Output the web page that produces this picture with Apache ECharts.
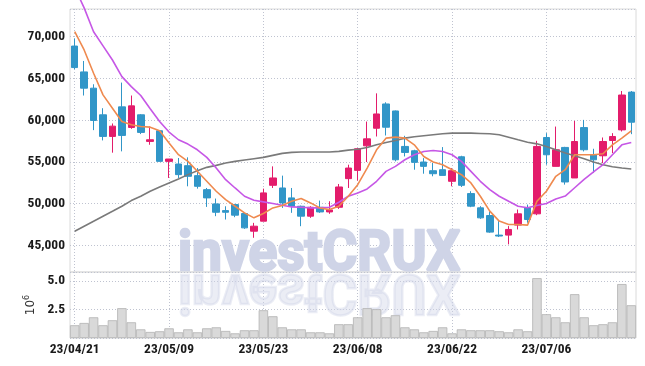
<!DOCTYPE html>
<html>
<head>
<meta charset="utf-8">
<script src="https://cdn.jsdelivr.net/npm/echarts/dist/echarts.min.js"></script>
<style>
html, body { margin: 0; padding: 0; background: #fff; }
#chart { width: 645px; height: 366px; }
</style>
</head>
<body>
<div id="chart"></div>
<script>
// trading days shown on the x axis
var dates = [
    '23/04/21', '23/04/24', '23/04/25', '23/04/26', '23/04/27', '23/04/28', '23/05/02', '23/05/03', '23/05/04', '23/05/08',
    '23/05/09', '23/05/10', '23/05/11', '23/05/12', '23/05/15', '23/05/16', '23/05/17', '23/05/18', '23/05/19', '23/05/22',
    '23/05/23', '23/05/24', '23/05/25', '23/05/26', '23/05/30', '23/05/31', '23/06/01', '23/06/02', '23/06/05', '23/06/07',
    '23/06/08', '23/06/09', '23/06/12', '23/06/13', '23/06/14', '23/06/15', '23/06/16', '23/06/19', '23/06/20', '23/06/21',
    '23/06/22', '23/06/23', '23/06/26', '23/06/27', '23/06/28', '23/06/29', '23/06/30', '23/07/03', '23/07/04', '23/07/05',
    '23/07/06', '23/07/07', '23/07/10', '23/07/11', '23/07/12', '23/07/13', '23/07/14', '23/07/17', '23/07/18', '23/07/19'
];

// [open, close, low, high]
var ohlc = [
    [68880, 66300, 66100, 69800], [65780, 63830, 62950, 67090], [63830, 59960, 58800, 64300], [60640, 58050, 57570, 61430],
    [58050, 59280, 56100, 59600], [61590, 58170, 56260, 64500], [59120, 61710, 58960, 62950], [60640, 58530, 58330, 60720],
    [57450, 57650, 57050, 59240], [58730, 55060, 55060, 58800], [55060, 55340, 53070, 55340], [54740, 53470, 53070, 55460],
    [54540, 53270, 52070, 55540], [53350, 52070, 51790, 54260], [51670, 50680, 49600, 51870], [49960, 48960, 48490, 50600],
    [49160, 48960, 48090, 49680], [49880, 48610, 48370, 49960], [48810, 47090, 46970, 48880], [46690, 47290, 45900, 47690],
    [47890, 51280, 47890, 51790], [52190, 53070, 51870, 54460], [51870, 50080, 49480, 53350], [50680, 49680, 48890, 51870],
    [49680, 48490, 47290, 49760], [48490, 49560, 48290, 49680], [49560, 49000, 48890, 50360], [49000, 49240, 48770, 50280],
    [49560, 51990, 49360, 52350], [52990, 54260, 51870, 54660], [53980, 56570, 52750, 56650], [56920, 57760, 54980, 59830],
    [59030, 60740, 58040, 63210], [61940, 59150, 58160, 62140], [61100, 55250, 55060, 61150], [56850, 56130, 55650, 58120],
    [56330, 54940, 54060, 56450], [54980, 54460, 53580, 55450], [53940, 53580, 53270, 54860], [54060, 53380, 53380, 56770],
    [52670, 53940, 52070, 54260], [55610, 52190, 51990, 55730], [51200, 49690, 49570, 51480], [49490, 48290, 48170, 49690],
    [48570, 46580, 46500, 49090], [46220, 46110, 45990, 47900], [46220, 46900, 45110, 47300], [47420, 48770, 46900, 49290],
    [49490, 48090, 47700, 49880], [48770, 56850, 48610, 57520], [57920, 55850, 54660, 58440], [54460, 56450, 54460, 59230],
    [56730, 52590, 52270, 56800], [53070, 57440, 53070, 59910], [59110, 56450, 56250, 60030], [55850, 55250, 53660, 56570],
    [55730, 57440, 54860, 57920], [57560, 58040, 56050, 58440], [58830, 63010, 58640, 63490], [63360, 59750, 58320, 63490]
];

// moving averages (orange, purple, gray)
var ma5 = [
    70600, 68410, 65620, 63030, 61430, 59840, 59440, 59240, 59160, 58730, 57250, 55860, 55060, 53870, 52670,
    51480, 50480, 49680, 48890, 48290, 48810, 49480, 49760, 50280, 50600, 50080, 49480, 49280, 49680, 50880,
    52270, 54260, 56450, 57840, 57960, 57840, 57040, 55650, 54980, 54660, 54060, 53460, 52470, 50880, 49090,
    47900, 47500, 47500, 47420, 50280, 51480, 53270, 54060, 55850, 55850, 55850, 55970, 57040, 57840, 58720
];
var ma20 = [
    75900, 73450, 70600, 68900, 67210, 65220, 64020, 62950, 61360, 59840, 58570, 57650, 57130, 56450, 55540,
    54260, 52870, 51870, 50880, 50400, 50200, 50000, 49800, 49600, 49560, 49480, 49480, 49560, 50160, 50880,
    51280, 51750, 52670, 53860, 54460, 55250, 55850, 56250, 56370, 56250, 55850, 55060, 53860, 52670, 51670,
    50880, 50280, 49690, 49490, 49770, 50000, 50550, 50900, 51900, 52900, 53800, 54660, 55850, 57040, 57320
];
var ma60 = [
    46690, 47290, 47890, 48490, 49080, 49680, 50360, 50880, 51480, 51990, 52470, 52950, 53470, 53940, 54340,
    54580, 54860, 55060, 55220, 55380, 55540, 55780, 56020, 56140, 56180, 56180, 56180, 56180, 56260, 56410,
    56520, 56730, 57040, 57320, 57560, 57840, 58000, 58120, 58240, 58360, 58440, 58440, 58440, 58400, 58360,
    58240, 57960, 57640, 57360, 57160, 56850, 56450, 56050, 55730, 55370, 54980, 54660, 54420, 54260, 54140
];

// volume, in millions of shares
var volume = [
    1.12, 1.32, 1.82, 1.12, 1.56, 2.62, 1.38, 0.76, 0.53, 0.59,
    0.85, 0.50, 0.76, 0.50, 0.85, 0.94, 0.62, 0.41, 0.68, 0.68,
    2.44, 1.91, 0.94, 0.76, 0.76, 0.50, 0.50, 0.41, 1.21, 1.21,
    1.82, 2.62, 2.53, 1.82, 2.00, 0.94, 0.76, 0.50, 0.62, 0.94,
    0.41, 0.76, 0.68, 0.68, 0.68, 0.59, 0.50, 0.76, 0.59, 5.26,
    2.09, 1.82, 1.38, 3.85, 1.82, 1.12, 1.21, 1.38, 4.74, 2.88
];

var chart = echarts.init(document.getElementById('chart'));

var FONT = "'Roboto Condensed', 'DejaVu Sans Condensed', 'Liberation Sans Narrow', sans-serif";
var UP = '#e31c6b';
var DOWN = '#3196c8';
var gridLine = { show: true, lineStyle: { color: '#bfc3d0', width: 1, type: [1, 2] } };
var labelStyle = { margin: 5, color: '#1a1a1a', fontSize: 13.5, fontWeight: 'bold', fontFamily: FONT };

function comma(v) {
    return String(Math.round(v)).replace(/\B(?=(\d{3})+(?!\d))/g, ',');
}

var wmColor = '#cfd4e7';

var option = {
    animation: false,
    backgroundColor: '#fff',
    grid: [
        { left: 70, right: 9, top: 9, height: 263, show: true, borderColor: '#dadada', borderWidth: 1 },
        { left: 70, right: 9, top: 272, height: 66, show: true, borderColor: '#dadada', borderWidth: 1 }
    ],
    xAxis: [{
        type: 'category', gridIndex: 0, data: dates, boundaryGap: true,
        axisLine: { show: false }, axisTick: { show: false }, axisLabel: { show: false },
        splitLine: { show: true, interval: 9, alignWithLabel: true, lineStyle: gridLine.lineStyle }
    }, {
        type: 'category', gridIndex: 1, data: dates, boundaryGap: true,
        axisLine: { show: false }, axisTick: { show: false },
        axisLabel: Object.assign({ interval: 9 }, labelStyle, { margin: 5 }),
        splitLine: { show: true, interval: 9, alignWithLabel: true, lineStyle: gridLine.lineStyle }
    }],
    yAxis: [{
        type: 'value', gridIndex: 0, min: 41800, max: 73320, splitNumber: 7,
        axisLine: { show: false }, axisTick: { show: false },
        axisLabel: Object.assign({ showMinLabel: false, showMaxLabel: false, formatter: comma }, labelStyle),
        splitLine: gridLine
    }, {
        type: 'value', gridIndex: 1, min: 0, max: 5.8, interval: 2.5,
        axisLine: { show: false }, axisTick: { show: false },
        axisLabel: Object.assign({ showMinLabel: false, showMaxLabel: false,
            formatter: function (v) { return v.toFixed(1); } }, labelStyle),
        splitLine: gridLine,
        name: '{b|10}{s|6}', nameLocation: 'middle', nameGap: 25, nameRotate: 90,
        nameTextStyle: {
            rich: {
                b: { fontSize: 12, fontFamily: 'DejaVu Sans', color: '#333' },
                s: { fontSize: 8, fontFamily: 'DejaVu Sans', color: '#333', padding: [0, 0, 8, 0] }
            }
        }
    }],
    graphic: [{
        type: 'text', z: 1, x: 178, y: 256, scaleX: 0.95,
        style: { text: 'investCRUX', fill: wmColor, stroke: wmColor, lineWidth: 2.5,
            font: 'bold 56px Roboto', verticalAlign: 'middle' }
    }, {
        type: 'text', z: 1, x: 178, y: 289, scaleX: 0.95, scaleY: -1,
        style: { text: 'investCRUX', fill: wmColor, stroke: wmColor, lineWidth: 2.5, opacity: 0.42,
            font: 'bold 56px Roboto', verticalAlign: 'middle' }
    }],
    series: [{
        type: 'candlestick', xAxisIndex: 0, yAxisIndex: 0, data: ohlc, barWidth: 7,
        itemStyle: { color: UP, color0: DOWN, borderColor: UP, borderColor0: DOWN, borderWidth: 1 }
    }, {
        type: 'line', xAxisIndex: 0, yAxisIndex: 0, data: ma60, symbol: 'none',
        lineStyle: { color: '#7a7a7a', width: 1.6 }
    }, {
        type: 'line', xAxisIndex: 0, yAxisIndex: 0, data: ma20, symbol: 'none', clip: false,
        lineStyle: { color: '#c657e6', width: 1.6 }
    }, {
        type: 'line', xAxisIndex: 0, yAxisIndex: 0, data: ma5, symbol: 'none',
        lineStyle: { color: '#ef8a4f', width: 1.6 }
    }, {
        type: 'bar', xAxisIndex: 1, yAxisIndex: 1, data: volume, barCategoryGap: '0%',
        itemStyle: { color: '#d9d9d9', borderColor: '#b3b3b3', borderWidth: 0.8 }
    }]
};

chart.setOption(option);
</script>
</body>
</html>
